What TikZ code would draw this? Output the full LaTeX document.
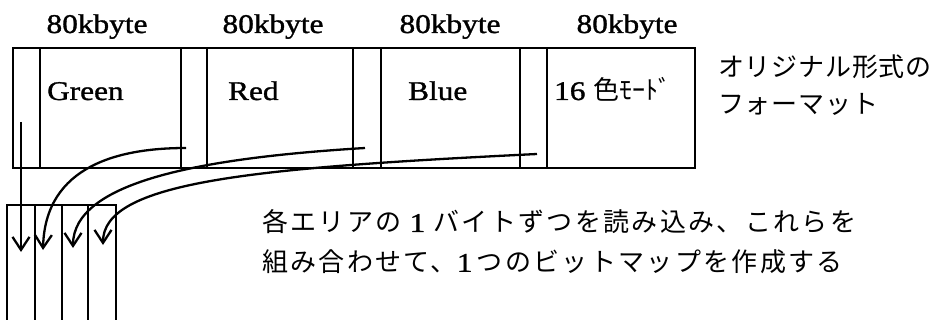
\documentclass[tikz,border=0pt]{standalone}
\usepackage{fontspec}
\setmainfont{Liberation Serif}[FakeStretch=1.16,FakeBold=1.2]
\newfontfamily\jp{Noto Sans CJK JP}
\newfontfamily\jpwide{Noto Sans CJK JP}[LetterSpace=9]
\newfontfamily\jpside{Noto Sans CJK JP}[LetterSpace=3]
\usetikzlibrary{arrows.meta}
\begin{document}
\begin{tikzpicture}[x=1pt,y=-1pt,line width=2.3pt,
  lat/.style={font=\fontsize{27}{30}\selectfont,inner sep=0pt},
  jptext/.style={font=\fontsize{26}{30}\selectfont\jpwide,inner sep=0pt,anchor=west},
  sidetext/.style={font=\fontsize{26}{30}\selectfont\jpside,inner sep=0pt,anchor=west},
  flow/.style={-{Straight Barb[length=13pt,width=17pt]}}]
\useasboundingbox (0,0) rectangle (941,320);
% top box
\draw (13,48) rectangle (695,168);
\foreach \xx in {40,181,207,353,381,520,547} \draw (\xx,48) -- (\xx,168);
% bottom box (open at bottom)
\draw (7,321) -- (7,205) -- (116,205) -- (116,321);
\foreach \xx in {35,62,88} \draw (\xx,205) -- (\xx,321);
% size labels
\node[lat,anchor=base] (k1) at (97,33) {80kbyte};
\node[lat,anchor=base] (k2) at (273,33) {80kbyte};
\node[lat,anchor=base] (k3) at (450,33) {80kbyte};
\node[lat,anchor=base] (k4) at (627,33) {80kbyte};
% area labels
\node[lat,anchor=base west] (green) at (46,100) {Green};
\node[lat,anchor=base west] (red) at (227,100) {Red};
\node[lat,anchor=base west] (blue) at (407,100) {Blue};
\node[lat,anchor=base west] (mode) at (553,100) {16 {\jp\fontsize{26}{30}\selectfont 色ﾓｰﾄﾞ}};
% side texts
\node[sidetext] (orig1) at (717,67) {オリジナル形式の};
\node[sidetext] (orig2) at (717,104) {フォーマット};
\node[jptext] (desc1) at (261,222) {各エリアの {\rmfamily\fontsize{27}{30}\selectfont 1} バイトずつを読み込み、これらを};
\node[jptext] (desc2) at (261,262) {組み合わせて、{\rmfamily\fontsize{27}{30}\selectfont 1}\,つのビットマップを作成する};
% arrows
\coordinate (s1) at (21,122);  \coordinate (e1) at (21,252);
\coordinate (s2) at (186,148); \coordinate (e2) at (43,250);
\coordinate (s3) at (365,148); \coordinate (e3) at (73,248);
\coordinate (s4) at (537,154); \coordinate (e4) at (103,245);
\draw[flow] (s1) -- (e1);
\draw[flow] (s2) .. controls (120,148) and (45,165) .. (e2);
\draw[flow] (s3) .. controls (200,158) and (73,182) .. (e3);
\draw[flow] (s4) .. controls (250,168) and (103,182) .. (e4);
\end{tikzpicture}
\end{document}
